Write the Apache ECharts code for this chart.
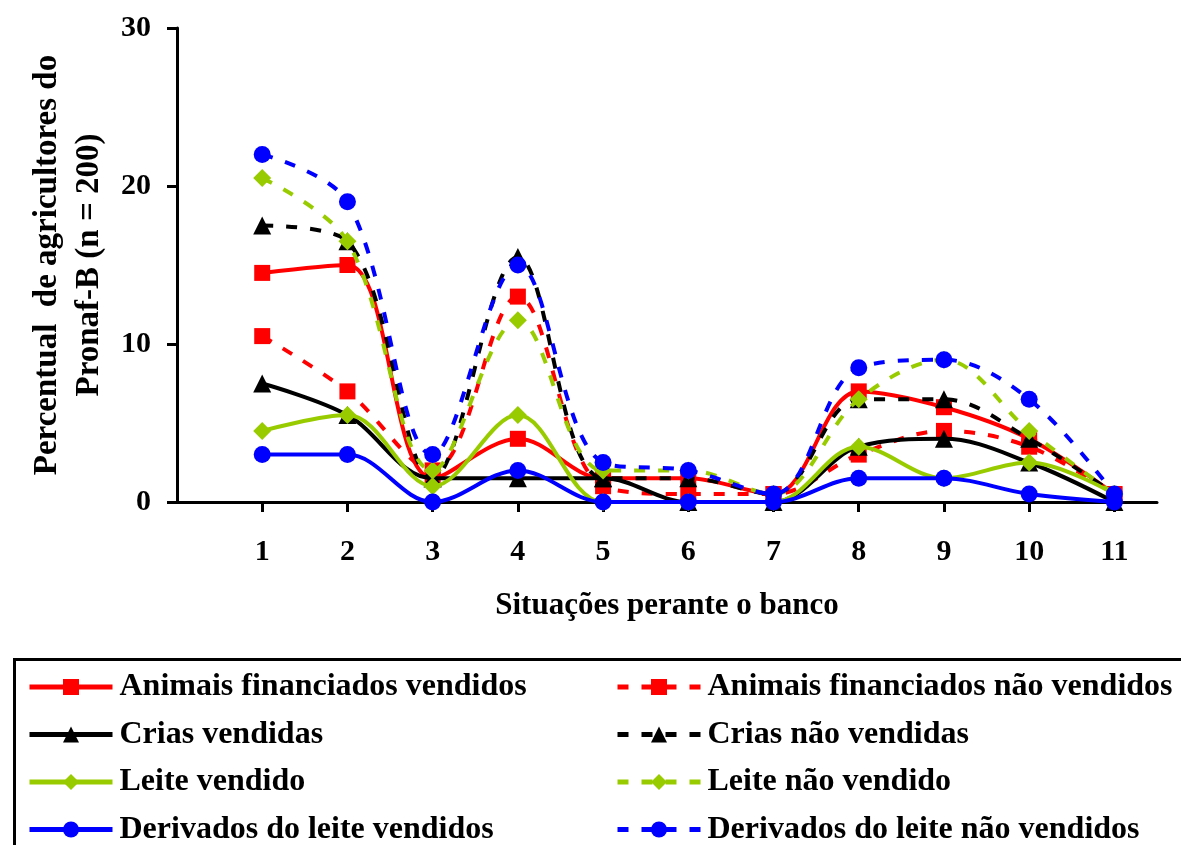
<!DOCTYPE html>
<html>
<head>
<meta charset="utf-8">
<script src="https://cdn.jsdelivr.net/npm/echarts@6/dist/echarts.min.js"></script>
<style>
html,body{margin:0;padding:0;background:#fff;}
#c{width:1181px;height:845px;}
</style>
</head>
<body>
<div id="c"></div>
<script>
const categories = [1, 2, 3, 4, 5, 6, 7, 8, 9, 10, 11];
const yTicks = [0, 10, 20, 30];

const animaisVendidos    = [14.5, 15, 1.5, 4, 1.5, 1.5, 0.5, 7, 6, 4, 0.5];
const animaisNaoVendidos = [10.5, 7, 2, 13, 1, 0.5, 0.5, 3, 4.5, 3.5, 0.5];
const criasVendidas      = [7.5, 5.5, 1.5, 1.5, 1.5, 0, 0, 3.5, 4, 2.5, 0];
const criasNaoVendidas   = [17.5, 16.5, 1.5, 15.5, 1.5, 1.5, 0.5, 6.5, 6.5, 4, 0.5];
const leiteVendido       = [4.5, 5.5, 1, 5.5, 0, 0, 0, 3.5, 1.5, 2.5, 0.5];
const leiteNaoVendido    = [20.5, 16.5, 2, 11.5, 2, 2, 0.5, 6.5, 9, 4.5, 0.5];
const derivadosVendidos  = [3, 3, 0, 2, 0, 0, 0, 1.5, 1.5, 0.5, 0];
const derivadosNaoVend   = [22, 19, 3, 15, 2.5, 2, 0.5, 8.5, 9, 6.5, 0.5];

const names = [
  'Animais financiados vendidos', 'Animais financiados não vendidos',
  'Crias vendidas', 'Crias não vendidas',
  'Leite vendido', 'Leite não vendido',
  'Derivados do leite vendidos', 'Derivados do leite não vendidos'
];
const values = [animaisVendidos, animaisNaoVendidos, criasVendidas, criasNaoVendidas,
  leiteVendido, leiteNaoVendido, derivadosVendidos, derivadosNaoVend];
const colors = ['#FF0000', '#FF0000', '#000000', '#000000', '#99CC00', '#99CC00', '#0000FF', '#0000FF'];
const symbols = ['rect', 'rect', 'triangle', 'triangle', 'diamond', 'diamond', 'circle', 'circle'];
const symSizes = [16, 16, 18, 18, 18, 18, 17, 17];

const FONT = 'Liberation Serif';

const series = names.map((n, i) => ({
  name: n,
  type: 'line',
  smooth: 0.35,
  data: categories.map((c, j) => [c, values[i][j]]),
  symbol: symbols[i],
  symbolSize: symSizes[i],
  showAllSymbol: true,
  itemStyle: { color: colors[i], borderWidth: 0 },
  lineStyle: { color: colors[i], width: 4, type: (i % 2 === 1) ? [11, 13] : 'solid' },
  z: 2 + i
}));

const legendText = { fontFamily: FONT, fontWeight: 'bold', fontSize: 32, lineHeight: 32, color: '#000', padding: [0, 0, 0, 2] };

const chart = echarts.init(document.getElementById('c'), null, { renderer: 'canvas' });
chart.setOption({
  backgroundColor: '#fff',
  animation: false,
  grid: { left: 177, top: 28, right: 24, bottom: 343, containLabel: false },
  xAxis: {
    type: 'value', min: 0, max: 11.5,
    name: 'Situações perante o banco',
    nameLocation: 'middle', nameGap: 88,
    nameTextStyle: { fontFamily: FONT, fontWeight: 'bold', fontSize: 31, color: '#000' },
    axisLine: { lineStyle: { color: '#000', width: 3 } },
    axisTick: { show: true, length: 10, lineStyle: { color: '#000', width: 3 }, customValues: categories },
    axisLabel: { customValues: categories, margin: 35, fontFamily: FONT, fontWeight: 'bold', fontSize: 30, color: '#000' },
    splitLine: { show: false }
  },
  yAxis: {
    type: 'value', min: 0, max: 30, interval: 10,
    name: 'Percentual  de agricultores do\nPronaf-B (n = 200)',
    nameLocation: 'middle', nameGap: 66, nameRotate: 90,
    nameTextStyle: { fontFamily: FONT, fontWeight: 'bold', fontSize: 33, lineHeight: 42, color: '#000' },
    axisLine: { show: true, lineStyle: { color: '#000', width: 3 } },
    axisTick: { show: true, length: 10, lineStyle: { color: '#000', width: 3 }, customValues: yTicks },
    axisLabel: { customValues: yTicks, margin: 26, fontFamily: FONT, fontWeight: 'bold', fontSize: 30, color: '#000' },
    splitLine: { show: false }
  },
  legend: [
    {
      data: names.filter((_, i) => i % 2 === 0),
      orient: 'vertical', left: 22, top: 666, height: 300,
      itemWidth: 83, itemHeight: 20, itemGap: 15.5,
      lineStyle: { width: 5 },
      textStyle: legendText
    },
    {
      data: names.filter((_, i) => i % 2 === 1),
      orient: 'vertical', left: 610, top: 666, height: 300,
      itemWidth: 83, itemHeight: 20, itemGap: 15.5,
      lineStyle: { width: 5 },
      textStyle: legendText
    }
  ],
  graphic: [{
    type: 'rect', left: 12, top: 657, z: 100,
    shape: { x: 0, y: 0, width: 1200, height: 250 },
    style: { fill: 'none', stroke: '#000', lineWidth: 3 }
  }],
  series: series
});
</script>
</body>
</html>
